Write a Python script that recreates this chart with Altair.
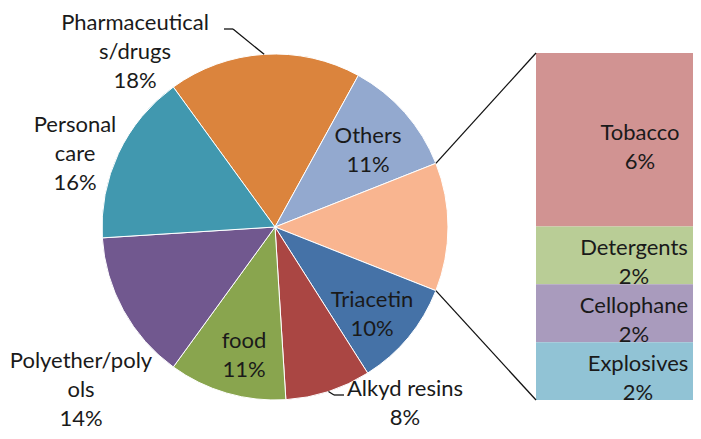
import math
import altair as alt
import pandas as pd

# ---------------- data ----------------
pie_names = ["Pharmaceuticals/drugs", "Others", "Split group", "Triacetin",
             "Alkyd resins", "food", "Polyether/polyols", "Personal care"]
pie_shown = ["Pharmaceutical\ns/drugs", "Others", "", "Triacetin",
             "Alkyd resins", "food", "Polyether/poly\nols", "Personal\ncare"]
pie_other_vals = [18, 11, None, 10, 8, 11, 14, 16]   # % ; split group = sum of bar
pie_colors = ["#DB843D", "#93A9CF", "#F9B590", "#4572A7",
              "#AA4643", "#89A54E", "#71588F", "#4198AF"]

bar_names = ["Tobacco", "Detergents", "Cellophane", "Explosives"]
bar_vals = [6, 2, 2, 2]
bar_colors = ["#D19392", "#B9CD96", "#A99BBD", "#91C3D5"]

# ---------------- layout (reference pixel coords) ----------------
OFF = 8                     # page margin
W, H = 685, 423
CX, CY, R = 275, 227, 173   # pie centre / radius
BAR_X0, BAR_TOP, BAR_BOT = 536, 53, 400
BAR_TEXT_X = 634
FONT = "Lato"
FS = 22
LH = 29
# first-baseline positions of the pie labels
label_pos = {
    "Pharmaceuticals/drugs": (135, 30),
    "Others": (368, 143),
    "Triacetin": (372, 307),
    "Alkyd resins": (405, 396),
    "food": (244, 348),
    "Polyether/polyols": (81, 368),
    "Personal care": (75, 132),
}
# leader elbows (from slice edge -> elbow -> end)
leader_pts = {
    "Pharmaceuticals/drugs": [(233, 29), (224, 29)],
    "Alkyd resins": [(334, 395), (344, 395)],
}
# offsets of bar labels (x from text column, y = first baseline from segment centre)
bar_text_dx = [6, 0, 0, 4]
bar_text_dy = [2, -6, -6, -5]

# ---------------- derived ----------------
group_val = sum(bar_vals)
pie_vals = [group_val if v is None else v for v in pie_other_vals]
total = sum(pie_vals)
gi = pie_names.index("Split group")
# split group centred at 3 o'clock
start_deg = 90 - 360 * (sum(pie_vals[:gi]) + group_val / 2) / total
start_rad = math.radians(start_deg)

pie_df = pd.DataFrame({
    "name": pie_names, "value": pie_vals, "idx": list(range(len(pie_names))),
})


def edge_point(frac):
    a = start_rad + 2 * math.pi * frac
    return CX + R * math.sin(a), CY - R * math.cos(a)


cum = [0]
for v in pie_vals:
    cum.append(cum[-1] + v)


def bar_px(v):
    return BAR_TOP + (BAR_BOT - BAR_TOP) * v / group_val


segs = []
for name, pts in leader_pts.items():
    i = pie_names.index(name)
    p0 = edge_point((cum[i] + pie_vals[i] / 2) / total)
    chain = [p0] + pts
    for a, b in zip(chain[:-1], chain[1:]):
        segs.append((a, b))
segs.append((edge_point(cum[gi] / total), (BAR_X0, bar_px(0))))
segs.append((edge_point(cum[gi + 1] / total), (BAR_X0, bar_px(group_val))))
seg_df = pd.DataFrame({
    "x": [a[0] - OFF for a, b in segs], "y": [a[1] - OFF for a, b in segs],
    "x2": [b[0] - OFF for a, b in segs], "y2": [b[1] - OFF for a, b in segs],
})

lab_rows = []
for name, shown, v in zip(pie_names, pie_shown, pie_vals):
    if name in label_pos:
        x, y = label_pos[name]
        lab_rows.append({"x": x - OFF, "y": y - OFF, "t": f"{shown}\n{v}%"})
lab_df = pd.DataFrame(lab_rows)

b0 = [sum(bar_vals[:i]) for i in range(len(bar_vals))]
bar_df = pd.DataFrame({
    "name": bar_names, "v0": b0,
    "v1": [a + b for a, b in zip(b0, bar_vals)],
    "mid": [a + b / 2 for a, b in zip(b0, bar_vals)],
    "t": [f"{n}\n{v}%" for n, v in zip(bar_names, bar_vals)],
    "dx": bar_text_dx,
    "dy": bar_text_dy,
})

# ---------------- chart ----------------
pie = alt.Chart(pie_df).mark_arc(outerRadius=R, stroke="white", strokeWidth=1).encode(
    theta=alt.Theta("value:Q", stack=True,
                    scale=alt.Scale(domain=[0, total], range=[start_rad, start_rad + 2 * math.pi])),
    order=alt.Order("idx:Q"),
    color=alt.Color("name:N", scale=alt.Scale(domain=pie_names, range=pie_colors), legend=None),
    x=alt.value(CX - OFF), y=alt.value(CY - OFF),
)

yscale = alt.Scale(domain=[0, group_val], range=[BAR_TOP - OFF, BAR_BOT - OFF])
bars = alt.Chart(bar_df).mark_rect().encode(
    x=alt.value(BAR_X0 - OFF), x2=alt.value(W + 60),
    y=alt.Y("v0:Q", scale=yscale, axis=None), y2="v1:Q",
    color=alt.Color("name:N", scale=alt.Scale(domain=bar_names, range=bar_colors), legend=None),
)
bar_text = alt.Chart(bar_df).mark_text(
    font=FONT, fontSize=FS, lineHeight=LH, lineBreak="\n", color="#1a1a1a",
    align="center", baseline="alphabetic").encode(
    x=alt.value(BAR_TEXT_X - OFF),
    xOffset=alt.XOffset("dx:Q", scale=None),
    y=alt.Y("mid:Q", scale=yscale, axis=None),
    yOffset=alt.YOffset("dy:Q", scale=None),
    text="t:N",
)

rules = alt.Chart(seg_df).mark_rule(color="#111111", strokeWidth=1.3).encode(
    x=alt.X("x:Q", scale=None), y=alt.Y("y:Q", scale=None),
    x2="x2:Q", y2="y2:Q",
)

labels = alt.Chart(lab_df).mark_text(
    font=FONT, fontSize=FS, lineHeight=LH, lineBreak="\n", color="#1a1a1a",
    align="center", baseline="alphabetic").encode(
    x=alt.X("x:Q", scale=None), y=alt.Y("y:Q", scale=None), text="t:N",
)

chart = alt.layer(pie, bars, bar_text, rules, labels).resolve_scale(
    color="independent", y="independent"
).properties(
    width=W, height=H, padding=0,
    autosize=alt.AutoSizeParams(type="none"),
).configure_view(stroke=None)

chart.save("out.html", embed_options={"renderer": "svg", "actions": False})
